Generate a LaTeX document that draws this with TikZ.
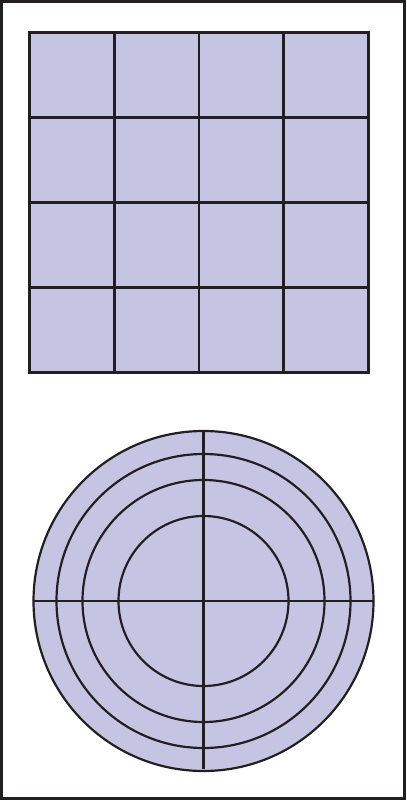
\documentclass[tikz,border=0pt]{standalone}
\usepackage{tikz}
\usetikzlibrary{positioning}
\definecolor{CellLilac}{RGB}{197,197,227}
\definecolor{InkBlack}{RGB}{35,31,32}

\begin{document}
\begin{tikzpicture}[
    x=0.02cm, y=-0.02cm,
    frameline/.style={draw=InkBlack, line width=3pt*0.5669},
    gridline/.style={draw=InkBlack, line width=2.6pt*0.5669},
    ringline/.style={draw=InkBlack, line width=2.2pt*0.5669}
  ]
    \useasboundingbox (0,0) rectangle (406,800);
    % outer frame
    \draw[frameline] (1.5,1.5) rectangle (404.5,798.5);

    % square grid
    \coordinate (gridNW) at (29.5,32.5);
    \coordinate (gridSE) at (368.5,372.5);
    \fill[CellLilac] (gridNW) rectangle (gridSE);
    \foreach \k in {1,2,3} {
      \draw[gridline] (29.5+84.75*\k,32.5) -- (29.5+84.75*\k,372.5);
      \draw[gridline] (29.5,32.5+85*\k) -- (368.5,32.5+85*\k);
    }
    \draw[frameline] (gridNW) rectangle (gridSE);

    % concentric rings
    \coordinate (ringC) at (203.5,601);
    \fill[CellLilac] (ringC) circle[radius=170];
    \foreach \r in {170,147,121,85}
      \draw[ringline] (ringC) circle[radius=\r];
    \draw[gridline] ([xshift=-170*0.02cm]ringC) -- ([xshift=170*0.02cm]ringC);
    \draw[gridline] ([yshift=170*0.02cm]ringC) -- ([yshift=-168*0.02cm]ringC);
  \end{tikzpicture}
\end{document}
